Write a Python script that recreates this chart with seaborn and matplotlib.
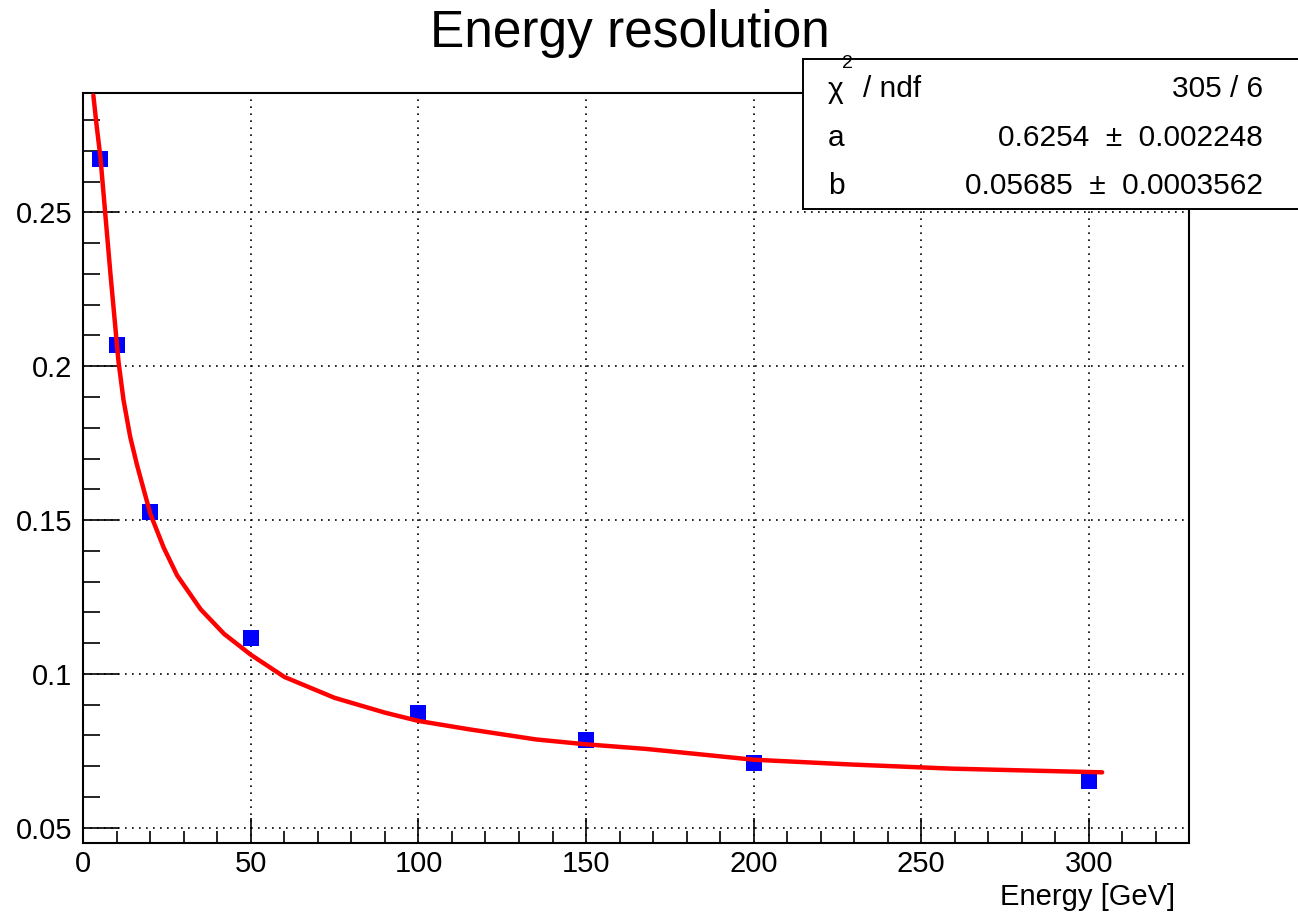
import matplotlib
matplotlib.use("Agg")
import matplotlib.pyplot as plt
import pandas as pd
import seaborn as sns
from matplotlib.patches import Rectangle
from matplotlib.ticker import FixedLocator, MultipleLocator

# measured points
energy = [5, 10, 20, 50, 100, 150, 200, 300]
resolution = [0.2672, 0.2068, 0.1526, 0.1118, 0.0872, 0.0786, 0.0711, 0.0652]

# fit curve
fit_energy = [3.0, 4.0, 5.1, 6.6, 8.1, 10.5, 12, 14, 16, 18, 20, 24, 28, 35, 42, 50, 60,
              75, 90, 100, 115, 135, 150, 168, 200, 230, 259, 285, 304]
fit_resolution = [0.288, 0.278, 0.268, 0.249, 0.230, 0.2015, 0.189, 0.177, 0.168, 0.160,
                  0.152, 0.141, 0.132, 0.121, 0.113, 0.1062, 0.0990, 0.0922, 0.0874,
                  0.0847, 0.0820, 0.0787, 0.0771, 0.0756, 0.0721, 0.0705, 0.0692,
                  0.0685, 0.0680]

xticks = [0, 50, 100, 150, 200, 250, 300]
yticks = [0.05, 0.1, 0.15, 0.2, 0.25]
ytick_labels = ["0.05", "0.1", "0.15", "0.2", "0.25"]

chi2_ndf = "305 / 6"
par_names = ["a", "b"]
par_values = ["0.6254", "0.05685"]
par_errors = ["0.002248", "0.0003562"]

points = pd.DataFrame({"E": energy, "res": resolution})
fit = pd.DataFrame({"E": fit_energy, "res": fit_resolution})

sns.set_style("ticks")
plt.rcParams["font.family"] = ["Liberation Sans", "DejaVu Sans"]
plt.rcParams["text.color"] = "black"
plt.rcParams["xtick.color"] = "black"
plt.rcParams["ytick.color"] = "black"
plt.rcParams["axes.labelcolor"] = "black"

W, H = 1298, 917
fig = plt.figure(figsize=(W / 100, H / 100), dpi=100)
ax = fig.add_axes([83.3 / W, 1 - 843.3 / H, (1189.3 - 83.3) / W, (843.3 - 92.7) / H])

ax.set_axisbelow(True)
ax.grid(True, which="major", color="black", linestyle=(0, (1, 3.2)), linewidth=1.2)

sns.scatterplot(data=points, x="E", y="res", marker="s", s=145, color="#0000ff",
                linewidth=0, ax=ax, zorder=3)
sns.lineplot(data=fit, x="E", y="res", sort=False, estimator=None, color="#ff0000",
             linewidth=3.2, ax=ax, zorder=4)

ax.set_xlim(0, 330)
ax.set_ylim(0.04493, 0.2889)
ax.xaxis.set_major_locator(FixedLocator(xticks))
ax.xaxis.set_minor_locator(MultipleLocator(10))
ax.yaxis.set_major_locator(FixedLocator(yticks))
ax.yaxis.set_minor_locator(MultipleLocator(0.01))
ax.set_yticklabels(ytick_labels)
ax.set_xlabel("")
ax.set_ylabel("")

for s in ax.spines.values():
    s.set_linewidth(1.5)
    s.set_color("black")
ax.tick_params(axis="both", which="both", direction="in", color="black", width=1.2,
               labelsize=21, labelcolor="black", top=False, right=False)
ax.tick_params(axis="x", which="major", length=18, pad=5)
ax.tick_params(axis="x", which="minor", length=8.6)
ax.tick_params(axis="y", which="major", length=26, pad=8)
ax.tick_params(axis="y", which="minor", length=12)

# title and axis title in ROOT style
fig.text(630 / W, 1 - 47 / H, "Energy resolution", ha="center", va="baseline", fontsize=37)
fig.text(1175 / W, 1 - 905 / H, "Energy [GeV]", ha="right", va="baseline", fontsize=21)

# stats box
box = Rectangle((803 / W, 1 - 209 / H), (1400 - 803) / W, (209 - 59) / H,
                transform=fig.transFigure, facecolor="white", edgecolor="black",
                linewidth=1.4, clip_on=False, zorder=10)
fig.patches.append(box)

fs = 21.5
fig.text(828 / W, 1 - 98 / H, "χ", ha="left", va="baseline", fontsize=fs, zorder=11)
fig.text(842 / W, 1 - 68 / H, "2", ha="left", va="baseline", fontsize=14, zorder=11)
fig.text(863 / W, 1 - 97 / H, "/ ndf", ha="left", va="baseline", fontsize=fs, zorder=11)
fig.text(1263 / W, 1 - 97 / H, chi2_ndf, ha="right", va="baseline", fontsize=fs, zorder=11)
for i, (n, v, e) in enumerate(zip(par_names, par_values, par_errors)):
    yb = 146 + 48 * i
    fig.text(828 / W, 1 - yb / H, n, ha="left", va="baseline", fontsize=fs, zorder=11)
    fig.text(1263 / W, 1 - yb / H, v + "  ±  " + e, ha="right", va="baseline",
             fontsize=fs, zorder=11)

fig.savefig("out.png", dpi=100)
